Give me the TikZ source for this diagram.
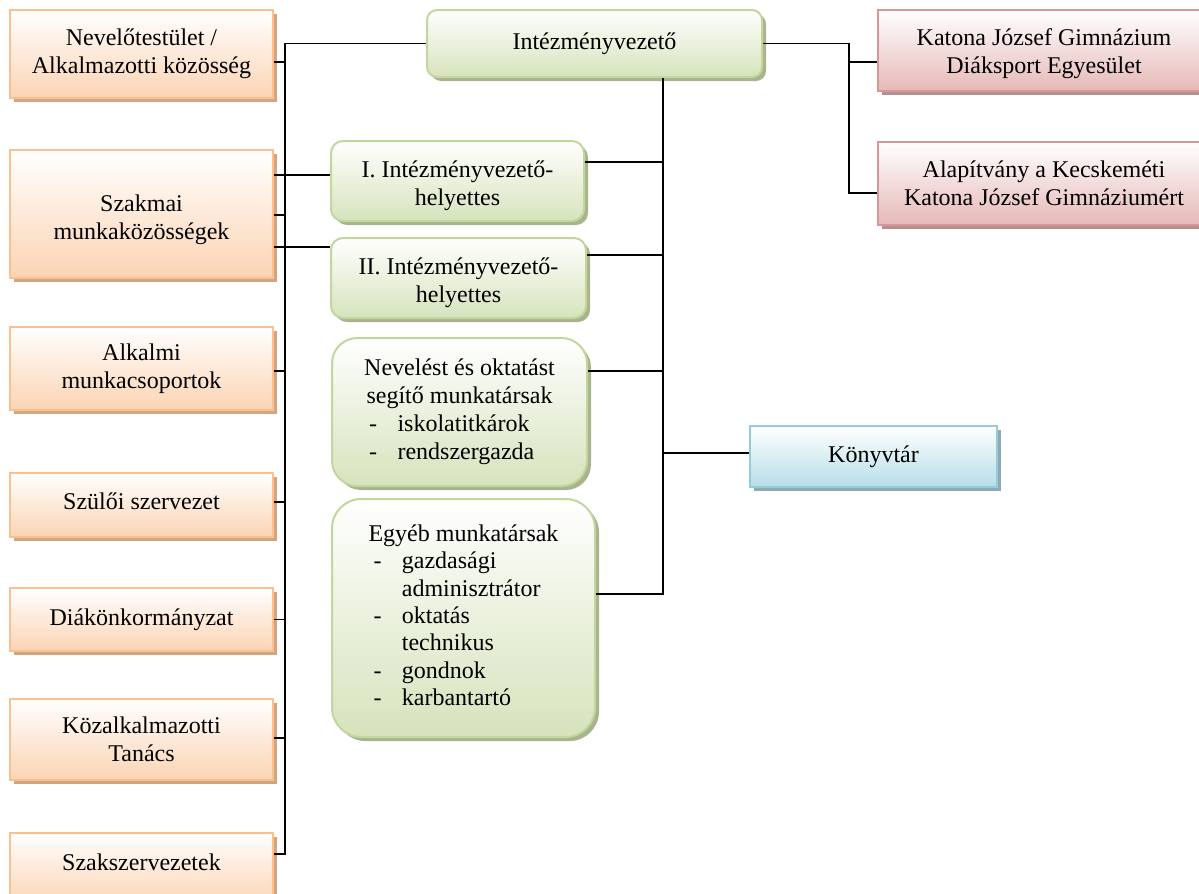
\documentclass[tikz,border=0pt]{standalone}
\usepackage{fontspec}
\setmainfont{Liberation Serif}
\newfontfamily\serifx{Liberation Serif}
\usetikzlibrary{shadows}
\definecolor{orBorder}{HTML}{FAC090}
\definecolor{orFill}{HTML}{FBD4B4}
\definecolor{orShadow}{HTML}{D2A47F}
\definecolor{grBorder}{HTML}{C3D69B}
\definecolor{grFill}{HTML}{D6E3BC}
\definecolor{grShadow}{HTML}{A8B48E}
\definecolor{rdBorder}{HTML}{D99694}
\definecolor{rdFill}{HTML}{E5B9B7}
\definecolor{rdShadow}{HTML}{B39090}
\definecolor{blBorder}{HTML}{92CDDC}
\definecolor{blFill}{HTML}{B6DDE8}
\definecolor{blShadow}{HTML}{90A9B2}
\newcommand\lstdash{\makebox[25pt][l]{\hspace{3.75pt}-}}
\newcommand\topstrut[1]{\rule{0pt}{#1}}
\tikzset{
  basebox/.style={draw, line width=1.5pt, align=center, inner sep=2pt,
    font=\serifx\fontsize{18}{21}\selectfont},
  obox/.style={basebox, rectangle, draw=orBorder, top color=white, bottom color=orFill,
    drop shadow={shadow xshift=3pt, shadow yshift=-3pt, fill=orShadow, opacity=1}},
  gbox/.style={basebox, rectangle, rounded corners=#1, draw=grBorder, top color=white, bottom color=grFill,
    drop shadow={shadow xshift=3pt, shadow yshift=-3pt, fill=grShadow, opacity=1}},
  gbox/.default=8pt,
  rbox/.style={basebox, rectangle, draw=rdBorder, top color=white, bottom color=rdFill,
    drop shadow={shadow xshift=3pt, shadow yshift=-3pt, fill=rdShadow, opacity=1}},
  bbox/.style={basebox, rectangle, draw=blBorder, top color=white, bottom color=blFill,
    drop shadow={shadow xshift=3pt, shadow yshift=-3pt, fill=blShadow, opacity=1}},
  link/.style={line width=1.4pt, black}
}
\begin{document}
\begin{tikzpicture}[x=0.75pt,y=-0.75pt]
\useasboundingbox (0,0) rectangle (1199,893);
% left column
\node[obox, minimum width=197.25pt, minimum height=66pt] (nev) at (141.5,54) {Nevelőtestület /\\Alkalmazotti közösség};
\node[obox, minimum width=197.25pt, minimum height=96pt] (szak) at (141.5,214) {\topstrut{21.2pt}Szakmai\\munkaközösségek};
\node[obox, minimum width=197.25pt, minimum height=62.25pt] (alk) at (141.5,368.5) {Alkalmi\\munkacsoportok};
\node[obox, minimum width=197.25pt, minimum height=48pt, text height=12.4pt, text depth=5.4pt] (szul) at (141.5,505) {Szülői szervezet};
\node[obox, minimum width=197.25pt, minimum height=47.25pt] (diak) at (141.5,619.5) {Diákönkormányzat};
\node[obox, minimum width=197.25pt, minimum height=60.75pt] (koz) at (141.5,739.5) {Közalkalmazotti\\Tanács};
\node[obox, minimum width=197.25pt, minimum height=54pt, text height=12pt, text depth=10.5pt] (szsz) at (141.5,869) {Szakszervezetek};
% middle column
\node[gbox=7.5pt, minimum width=251.25pt, minimum height=50.25pt] (iv) at (594.5,43.5) {Intézményvezető};
\node[gbox=9pt, minimum width=189.75pt, minimum height=60pt] (h1) at (457.5,181) {\topstrut{20pt}I. Intézményvezető-\\helyettes};
\node[gbox=9pt, minimum width=191.25pt, minimum height=60pt] (h2) at (458.5,278) {\topstrut{20pt}II. Intézményvezető-\\helyettes};
\node[gbox=19pt, minimum width=191.25pt, minimum height=111pt] (nev2) at (459.5,412) {%
\begin{tabular}{@{}l@{}l@{}}
\multicolumn{2}{@{}c@{}}{Nevelést és oktatást}\\
\multicolumn{2}{@{}c@{}}{segítő munkatársak}\\
\lstdash & iskolatitkárok\\
\lstdash & rendszergazda
\end{tabular}};
\node[gbox=22pt, minimum width=197.25pt, minimum height=178.5pt, font=\serifx\fontsize{18}{20.6}\selectfont] (egyeb) at (463.5,618) {%
\begin{tabular}{@{}l@{}l@{}}
\multicolumn{2}{@{}c@{}}{Egyéb munkatársak}\\
\lstdash & gazdasági\\
 & adminisztrátor\\
\lstdash & oktatás\\
 & technikus\\
\lstdash & gondnok\\
\lstdash & karbantartó
\end{tabular}};
% right side
\node[bbox, minimum width=185.25pt, minimum height=45.75pt] (kony) at (873.5,456.5) {Könyvtár};
\node[rbox, minimum width=249pt, minimum height=60.75pt] (katona) at (1044,50.5) {\topstrut{17pt}Katona József Gimnázium\\Diáksport Egyesület};
\node[rbox, minimum width=249pt, minimum height=62.25pt] (alap) at (1044,183.5) {Alapítvány a Kecskeméti\\Katona József Gimnáziumért};
% trunk coordinates
\coordinate (tl) at (285,0);
\coordinate (tr) at (663,0);
\coordinate (tk) at (849,0);
% left stubs
\coordinate (s1) at ([yshift=-6pt]nev.east);
\coordinate (s2a) at ([yshift=29.25pt]szak.east);
\coordinate (s2b) at ([yshift=-0.75pt]szak.east);
\coordinate (s2c) at ([yshift=-24.75pt]szak.east);
\coordinate (s3) at ([yshift=-1.9pt]alk.east);
\coordinate (s4) at ([yshift=2.25pt]szul.east);
\coordinate (s5) at (diak.east);
\coordinate (s6) at ([yshift=1.1pt]koz.east);
\coordinate (s7) at ([yshift=11.25pt]szsz.east);
\draw[link] (iv.west) -- (iv.west -| tl) -- (tl |- s7) -- (s7);
\draw[link] (s1) -- (s1 -| tl);
\draw[link] (s2a) -- (s2a -| h1.west);
\draw[link] (s2b) -- (s2b -| tl);
\draw[link] (s2c) -- (s2c -| h2.west);
\draw[link] (s3) -- (s3 -| tl);
\draw[link] (s4) -- (s4 -| tl);
\draw[link] (s5) -- (s5 -| tl);
\draw[link] (s6) -- (s6 -| tl);
% right trunk
\coordinate (r1) at ([yshift=14.25pt]h1.east);
\coordinate (r2) at ([yshift=17.25pt]h2.east);
\coordinate (r3) at ([yshift=30.75pt]nev2.east);
\coordinate (r4) at ([yshift=2.6pt]kony.west);
\coordinate (r5) at ([yshift=18pt]egyeb.east);
\draw[link] (tr |- iv.south) -- (tr |- r5) -- (r5);
\draw[link] (r1) -- (r1 -| tr);
\draw[link] (r2) -- (r2 -| tr);
\draw[link] (r3) -- (r3 -| tr);
\draw[link] (r4 -| tr) -- (r4);
% top right
\coordinate (k1) at ([yshift=-8.6pt]katona.west);
\coordinate (a1) at ([yshift=-7.1pt]alap.west);
\draw[link] (iv.east) -- (iv.east -| tk) -- (tk |- a1) -- (a1);
\draw[link] (k1 -| tk) -- (k1);
\end{tikzpicture}
\end{document}
